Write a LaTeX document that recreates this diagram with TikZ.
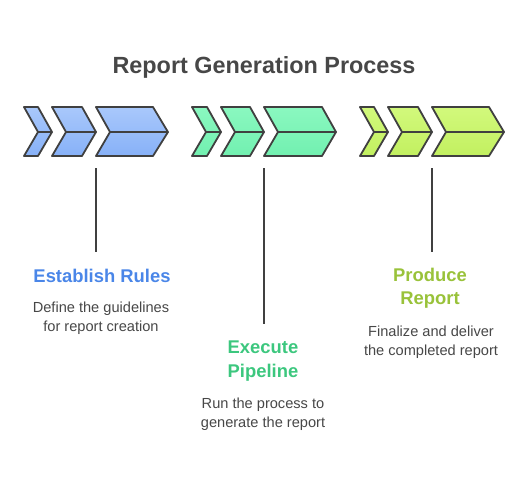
\documentclass[tikz,border=0pt]{standalone}
\usepackage{fontspec}
\setmainfont{Liberation Sans}
\begin{document}
\begin{tikzpicture}[x=1pt,y=-1pt,
  chev/.style={draw=black!75, line width=1.8pt, line join=round},
  mid/.style={draw=black!75, line width=1.8pt},
  stem/.style={draw=black!75, line width=1.2pt},
  ttl/.style={font=\bfseries\fontsize{23.4}{28}\selectfont, text=black!72},
  lbl/.style={font=\bfseries\fontsize{18.4}{23.5}\selectfont, align=center},
  dsc/.style={font=\fontsize{14.6}{18.8}\selectfont, text=black!72, align=center}]
\useasboundingbox (0,0) rectangle (528,480);
\definecolor{bA}{HTML}{A9C8FB}\definecolor{bB}{HTML}{87B1F8}
\definecolor{gA}{HTML}{8AF8C0}\definecolor{gB}{HTML}{72F0B0}
\definecolor{lA}{HTML}{D2F97C}\definecolor{lB}{HTML}{C2F060}
\definecolor{tB}{HTML}{4A86E8}\definecolor{tG}{HTML}{3CC77E}\definecolor{tL}{HTML}{99C23A}
\node[ttl] (title) at (264,67) {Report Generation Process};
% chevron macro: left x, top-right x, tip x
\newcommand{\mychev}[5]{%
  \shade[top color=#4, bottom color=#5] (#1,107) -- (#2,107) -- (#3,132) -- (#2,156) -- (#1,156) -- ({#1+14},132) -- cycle;
  \draw[chev] (#1,107) -- (#2,107) -- (#3,132) -- (#2,156) -- (#1,156) -- ({#1+14},132) -- cycle;
  \draw[mid] ({#1+14},132) -- (#3,132);}
\mychev{24}{38}{52}{bA}{bB}
\mychev{52}{82}{96}{bA}{bB}
\mychev{96}{153}{168}{bA}{bB}
\mychev{192}{207}{221}{gA}{gB}
\mychev{221}{250}{264}{gA}{gB}
\mychev{264}{322}{336}{gA}{gB}
\mychev{360}{374}{388}{lA}{lB}
\mychev{388}{418}{432}{lA}{lB}
\mychev{432}{489}{504}{lA}{lB}
\coordinate (s1) at (96,168); \coordinate (e1) at (96,252);
\coordinate (s2) at (264,168); \coordinate (e2) at (264,324);
\coordinate (s3) at (432,168); \coordinate (e3) at (432,252);
\draw[stem] (s1) -- (e1);
\draw[stem] (s2) -- (e2);
\draw[stem] (s3) -- (e3);
\node[lbl, text=tB] (l1) at (102,276) {Establish Rules};
\node[dsc] (d1) at (101,318) {Define the guidelines\\for report creation};
\node[lbl, text=tG] (l2) at (263,361) {Execute\\Pipeline};
\node[dsc] (d2) at (263,414) {Run the process to\\generate the report};
\node[lbl, text=tL] (l3) at (430,288) {Produce\\Report};
\node[dsc] (d3) at (431,342) {Finalize and deliver\\the completed report};
\end{tikzpicture}
\end{document}
